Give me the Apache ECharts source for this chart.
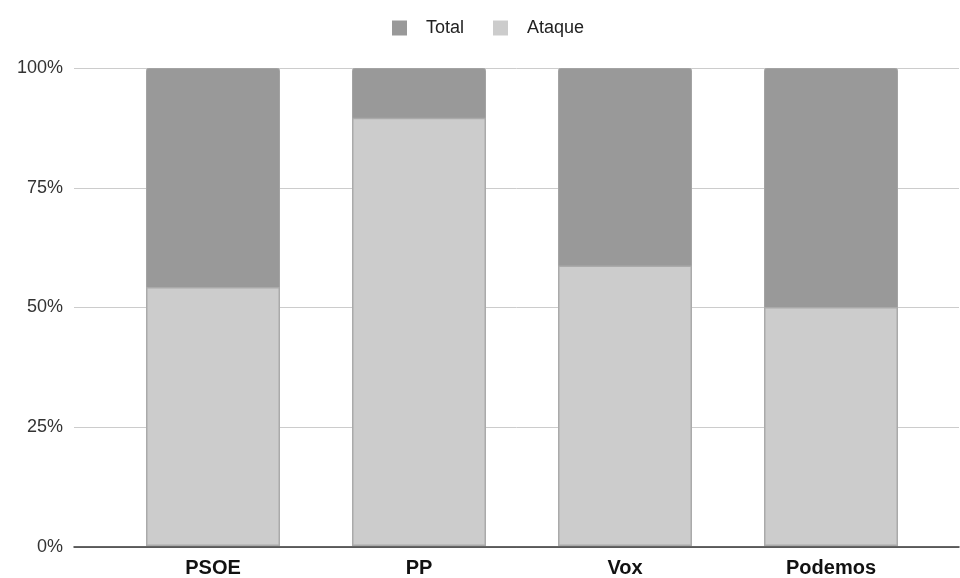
<!DOCTYPE html>
<html><head><meta charset="utf-8">
<script src="https://cdn.jsdelivr.net/npm/echarts@6/dist/echarts.min.js"></script>
<style>html,body{margin:0;padding:0;background:#fff}#c{width:960px;height:578px}</style>
</head><body><div id="c"></div>
<script>
const categories = ['PSOE', 'PP', 'Vox', 'Podemos'];
const totalValues = [100, 100, 100, 100];
const ataqueValues = [54.2, 89.6, 58.7, 50];
const yTicks = [0, 25, 50, 75, 100];

const chart = echarts.init(document.getElementById('c'));
const font = 'Liberation Sans, Arial, sans-serif';
chart.setOption({
  animation: false,
  backgroundColor: '#fff',
  legend: {
    top: 14, left: 387, itemWidth: 15, itemHeight: 15, itemGap: 29,
    icon: 'rect',
    itemStyle: { borderWidth: 0 },
    formatter: function (n) { return '{t|' + n + '}'; },
    textStyle: { fontFamily: font, fontSize: 18, color: '#222',
      rich: { t: { fontFamily: font, fontSize: 18, color: '#222', padding: [0, 0, 0, 14] } } },
    data: ['Total', 'Ataque']
  },
  grid: [
    { left: 74, right: 1, top: 68, bottom: 31 },
    { left: 110, right: 26, top: 68, bottom: 31 }
  ],
  xAxis: [
    { type: 'category', gridIndex: 0, data: [''],
      axisLine: { lineStyle: { color: '#333', width: 1.5 } },
      axisTick: { show: false }, axisLabel: { show: false }, splitLine: { show: false } },
    { type: 'category', gridIndex: 1, data: categories,
      axisLine: { show: false }, axisTick: { show: false },
      axisLabel: { fontFamily: font, fontSize: 20, fontWeight: 'bold', color: '#111', margin: 12 } }
  ],
  yAxis: [
    { type: 'value', gridIndex: 0, min: yTicks[0], max: yTicks[yTicks.length - 1], interval: 25,
      axisLine: { show: false }, axisTick: { show: false },
      splitLine: { lineStyle: { color: '#cccccc', width: 1 } },
      axisLabel: { formatter: '{value}%', fontFamily: font, fontSize: 18, color: '#333', margin: 11 } },
    { type: 'value', gridIndex: 1, min: 0, max: 100, show: false, splitLine: { show: false } }
  ],
  series: [
    { name: 'Total', type: 'bar', xAxisIndex: 1, yAxisIndex: 1, data: totalValues,
      barWidth: 134, barGap: '-100%',
      itemStyle: { color: '#999999', borderColor: '#a3a3a3', borderWidth: 1, borderRadius: [2, 2, 0, 0] } },
    { name: 'Ataque', type: 'bar', xAxisIndex: 1, yAxisIndex: 1, data: ataqueValues,
      barWidth: 134, barGap: '-100%',
      itemStyle: { color: '#cccccc', borderColor: '#aaaaaa', borderWidth: 1.5 } }
  ]
});
</script></body></html>
